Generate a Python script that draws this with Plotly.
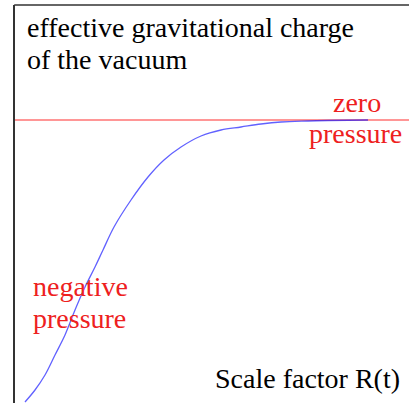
import plotly.graph_objects as go

# Data (arbitrary units)
scale_factor = [0.10, 0.20, 0.30, 0.40, 0.50, 0.60, 0.70, 0.80, 0.88, 0.99,
                1.16, 1.33, 1.49, 1.66, 1.86, 2.06, 2.26, 2.46, 2.66, 2.93,
                3.13, 3.53]
grav_charge = [-2.82, -2.70, -2.55, -2.35, -2.15, -1.90, -1.67, -1.47, -1.30,
               -1.07, -0.80, -0.57, -0.40, -0.27, -0.16, -0.10, -0.07, -0.04,
               -0.02, -0.01, -0.005, 0.0]
zero_level_x = [0.0, 3.95]
zero_level_y = [0.0, 0.0]

X_RANGE = [0.0, 3.94]
Y_RANGE = [-2.83, 1.15]

W, H = 409, 403
ML, MT = 15, 5
PW, PH = W - ML, H - MT


def px(xp):
    return (xp - ML) / PW


def py(yp):
    return (H - yp) / PH


SERIF = "Liberation Serif, Times New Roman, serif"
RED = "#ee2020"

fig = go.Figure()
fig.add_trace(go.Scatter(x=zero_level_x, y=zero_level_y, mode="lines",
                         line=dict(color="rgba(255,0,0,0.55)", width=1.4),
                         hoverinfo="skip", showlegend=False))
fig.add_trace(go.Scatter(x=scale_factor, y=grav_charge, mode="lines",
                         line=dict(color="rgba(0,0,255,0.62)", width=1.3,
                                   shape="spline", smoothing=1.0),
                         showlegend=False))

ann = [
    ("effective gravitational charge", 25, 27, "left", "#000"),
    ("of the vacuum", 25, 60, "left", "#000"),
    ("zero", 357, 103, "center", RED),
    ("pressure", 355, 133, "center", RED),
    ("negative", 31, 286, "left", RED),
    ("pressure", 31, 318, "left", RED),
    ("Scale factor R(t)", 213, 378, "left", "#000"),
]
for text, xp, yp, xa, col in ann:
    fig.add_annotation(text=text, x=px(xp), y=py(yp), xref="paper", yref="paper",
                       xanchor=xa, yanchor="middle", showarrow=False,
                       font=dict(family=SERIF, size=28, color=col))

# top frame line
fig.add_shape(type="line", xref="paper", yref="paper", x0=-0.002, x1=1,
              y0=1.0, y1=1.0, layer="above",
              line=dict(color="#333333", width=1.5))

fig.update_layout(
    width=W, height=H,
    margin=dict(l=ML, r=0, t=MT, b=0),
    paper_bgcolor="white", plot_bgcolor="white",
    xaxis=dict(range=X_RANGE, showline=False, showgrid=False, zeroline=False,
               showticklabels=False, ticks=""),
    yaxis=dict(range=Y_RANGE, showline=True, linecolor="#333", linewidth=1.5,
               showgrid=False, zeroline=False, showticklabels=False, ticks=""),
)
fig.write_html("out.html", config={"displayModeBar": False},
               post_script="document.body.style.margin='0';"
                           "document.body.style.overflow='hidden';"
                           "window.scrollTo(0,0);")
